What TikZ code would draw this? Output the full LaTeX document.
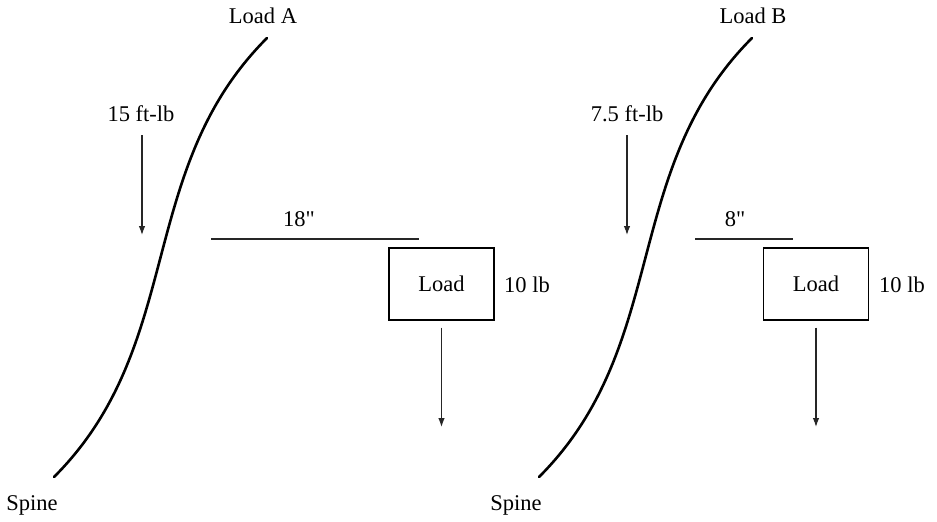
\documentclass[tikz,border=0pt]{standalone}
\usepackage{fontspec}
\setmainfont{Liberation Serif}
\usetikzlibrary{arrows.meta}
\begin{document}
\begin{tikzpicture}[x=1pt,y=-1pt,
  lbl/.style={inner sep=0pt,font=\fontsize{22.5}{26}\selectfont},
  spine/.style={line width=2.6pt,line cap=round},
  thin/.style={line width=1.1pt,black!85},
  force/.style={thin,-{Latex[length=9pt,width=6.5pt]}},
  loadbox/.style={draw,line width=1.3pt,minimum width=105pt,minimum height=72pt,inner sep=0pt,font=\fontsize{22.5}{26}\selectfont}]
\useasboundingbox (0,0) rectangle (937,522);
\fill[white] (0,0) rectangle (937,522);
% ---------- left ----------
\coordinate (sa0) at (54,477);
\coordinate (sa1) at (267,38);
\draw[spine] (sa0) .. controls (186,345) and (135,170) .. (sa1);
\node[lbl] (loadA) at (263,16) {Load A};
\node[lbl] (spineA) at (32,505) {Spine};
\node[lbl] (momA) at (141,114) {15 ft-lb};
\coordinate (mA0) at (142,135);
\coordinate (mA1) at (142,235);
\draw[force] (mA0) -- (mA1);
\coordinate (dA0) at (211,239);
\coordinate (dA1) at (419,239);
\draw[thin] (dA0) -- (dA1);
\node[lbl] (distA) at (299,219) {18\textquotedbl};
\node[loadbox] (boxA) at (441.5,284) {Load};
\node[lbl] (wA) at (527,285) {10 lb};
\coordinate (fA) at (441.5,427);
\draw[force] ([yshift=-7pt]boxA.south) -- (fA);
% ---------- right ----------
\coordinate (sb0) at (539,477);
\coordinate (sb1) at (752,38);
\draw[spine] (sb0) .. controls (671,345) and (620,170) .. (sb1);
\node[lbl] (loadB) at (753,16) {Load B};
\node[lbl] (spineB) at (516,505) {Spine};
\node[lbl] (momB) at (627,114) {7.5 ft-lb};
\coordinate (mB0) at (627,135);
\coordinate (mB1) at (627,235);
\draw[force] (mB0) -- (mB1);
\coordinate (dB0) at (695,239);
\coordinate (dB1) at (793,239);
\draw[thin] (dB0) -- (dB1);
\node[lbl] (distB) at (735,219) {8\textquotedbl};
\node[loadbox] (boxB) at (816,284) {Load};
\node[lbl] (wB) at (902,285) {10 lb};
\coordinate (fB) at (816,427);
\draw[force] ([yshift=-7pt]boxB.south) -- (fB);
\end{tikzpicture}
\end{document}
